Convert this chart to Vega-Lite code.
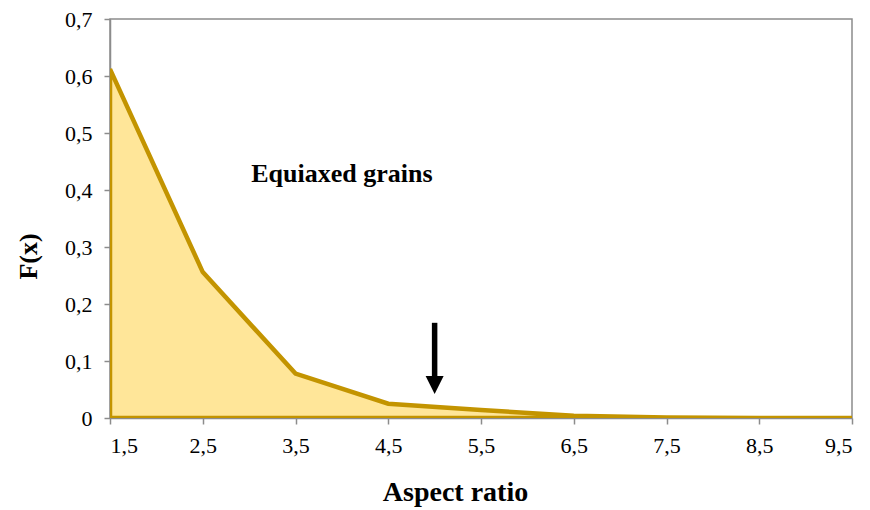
{
  "$schema": "https://vega.github.io/schema/vega-lite/v6.json",
  "width": 742,
  "height": 399,
  "autosize": {"type": "none"},
  "padding": {"left": 110, "top": 19, "right": 18, "bottom": 92},
  "background": "white",
  "config": {
    "font": "Liberation Serif",
    "view": {"stroke": "#8c8c8c", "strokeWidth": 1.5},
    "axis": {
      "domainColor": "#8c8c8c",
      "domainWidth": 1.5,
      "tickColor": "#8c8c8c",
      "tickWidth": 1.5,
      "tickSize": 6,
      "grid": false,
      "labelFont": "Liberation Serif",
      "labelFontSize": 22,
      "labelColor": "#000000",
      "titleFont": "Liberation Serif",
      "titleColor": "#000000",
      "titleFontWeight": "bold"
    }
  },
  "datasets": {
    "dist": [
      {"ratio": 1.5, "F": 0.612},
      {"ratio": 2.5, "F": 0.256},
      {"ratio": 3.5, "F": 0.078},
      {"ratio": 4.5, "F": 0.025},
      {"ratio": 5.5, "F": 0.014},
      {"ratio": 6.5, "F": 0.004},
      {"ratio": 7.5, "F": 0.001},
      {"ratio": 8.5, "F": 0.0},
      {"ratio": 9.5, "F": 0.0}
    ],
    "arrow": [{"ratio": 5.0, "top": 0.167, "bottom": 0.07, "head": 0.058}],
    "note": [{"ratio": 4.0, "F": 0.414, "label": "Equiaxed grains"}]
  },
  "layer": [
    {
      "data": {"name": "dist"},
      "mark": {"type": "area", "color": "#FFE699", "stroke": "#C39400", "strokeWidth": 4.5, "strokeJoin": "miter", "clip": true},
      "encoding": {
        "x": {
          "field": "ratio", "type": "quantitative",
          "scale": {"domain": [1.5, 9.5], "nice": false, "zero": false},
          "axis": {
            "values": [1.5, 2.5, 3.5, 4.5, 5.5, 6.5, 7.5, 8.5, 9.5],
            "labelExpr": "replace(format(datum.value, '.1f'), '.', ',')",
            "labelPadding": 11,
            "title": "Aspect ratio",
            "titleFontSize": 28,
            "titleX": 345,
            "titleY": 82,
            "titleAlign": "center",
            "titleBaseline": "alphabetic"
          }
        },
        "y": {
          "field": "F", "type": "quantitative",
          "scale": {"domain": [0, 0.7], "nice": false},
          "axis": {
            "values": [0, 0.1, 0.2, 0.3, 0.4, 0.5, 0.6, 0.7],
            "labelExpr": "datum.value == 0 ? '0' : replace(format(datum.value, '.1f'), '.', ',')",
            "labelPadding": 12,
            "title": "F(x)",
            "titleFontSize": 26,
            "titleX": -82,
            "titleY": 237,
            "titleAngle": -90,
            "titleAlign": "center",
            "titleBaseline": "middle"
          }
        }
      }
    },
    {
      "data": {"name": "arrow"},
      "mark": {"type": "rule", "color": "#000000", "strokeWidth": 5.5},
      "encoding": {
        "x": {"field": "ratio", "type": "quantitative"},
        "y": {"field": "top", "type": "quantitative"},
        "y2": {"field": "bottom"}
      }
    },
    {
      "data": {"name": "arrow"},
      "mark": {"type": "point", "shape": "M-1,-1L1,-1L0,1Z", "filled": true, "color": "#000000", "size": 324, "opacity": 1},
      "encoding": {
        "x": {"field": "ratio", "type": "quantitative"},
        "y": {"field": "head", "type": "quantitative"}
      }
    },
    {
      "data": {"name": "note"},
      "mark": {"type": "text", "font": "Liberation Serif", "fontSize": 26, "fontWeight": "bold", "color": "#000000", "align": "center", "baseline": "alphabetic"},
      "encoding": {
        "x": {"field": "ratio", "type": "quantitative"},
        "y": {"field": "F", "type": "quantitative"},
        "text": {"field": "label"}
      }
    }
  ]
}
